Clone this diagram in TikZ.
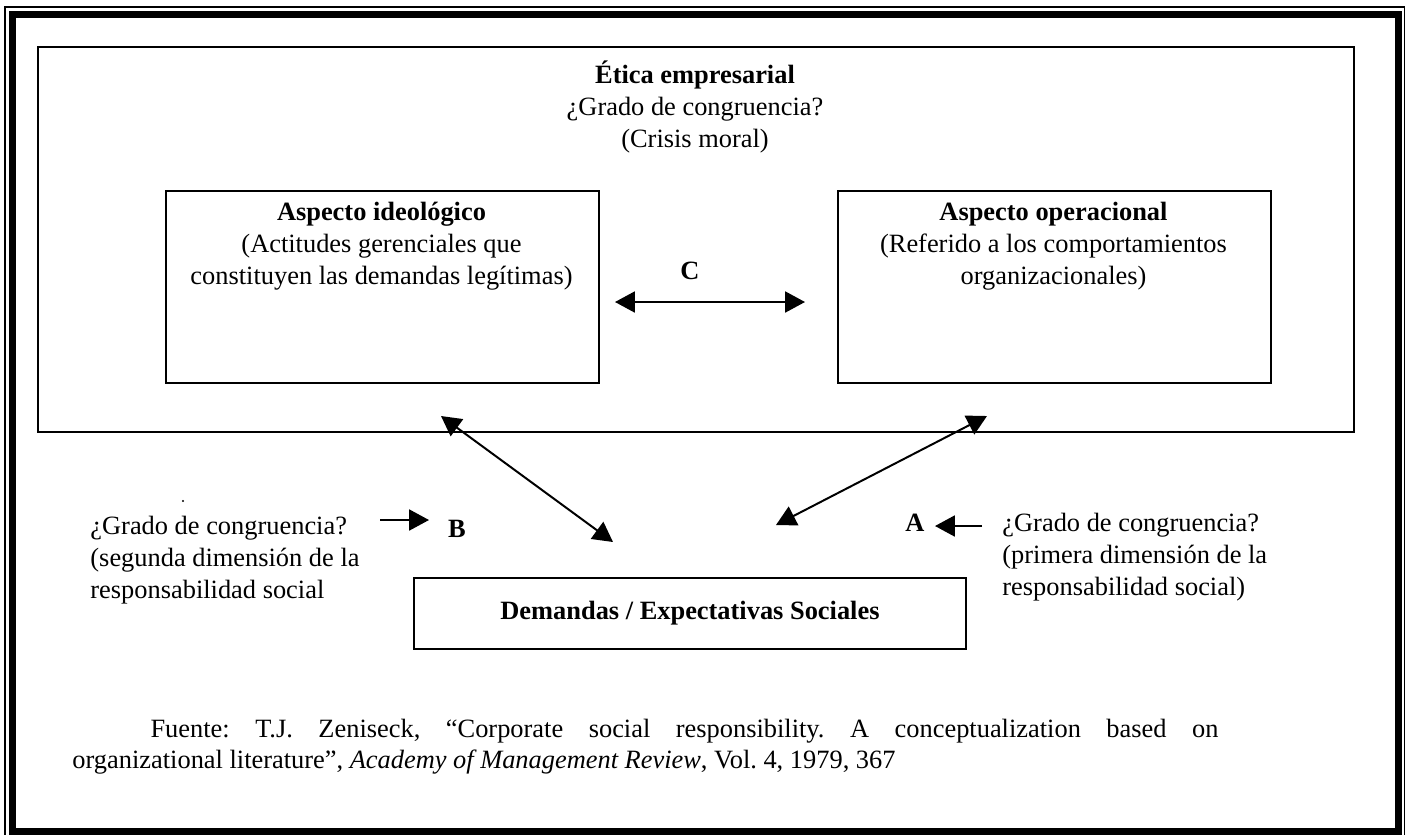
\documentclass[tikz,border=0pt]{standalone}
\usepackage{fontspec}
\setmainfont{Liberation Serif}
\usetikzlibrary{arrows.meta}
\frenchspacing

\begin{document}
\begin{tikzpicture}[x=0.4545pt, y=-0.4545pt,
  every node/.style={font=\fontsize{12}{14.5}\selectfont, inner sep=0pt},
  box/.style={draw, line width=0.9pt, inner sep=0pt, anchor=north west},
  onetip/.style={line width=0.9pt, -{Triangle[length=9pt, width=9.5pt]}},
  twotip/.style={line width=0.9pt, {Triangle[length=9pt, width=9.5pt]}-{Triangle[length=9pt, width=9.5pt]}}]

\useasboundingbox (0,0) rectangle (1410,834);

% page frame: thin outer rule and heavy inner rule
\draw[line width=0.7pt] (5,7) rectangle (1404.5,845);
\draw[line width=3.2pt] (12.5,14.5) rectangle (1398.7,832);

% boxes
\node[box, minimum width={1316*0.4545pt}, minimum height={385*0.4545pt}] (etica) at (37,46) {};
\node[box, minimum width={433*0.4545pt}, minimum height={192*0.4545pt}] (ideo) at (165,190) {};
\node[box, minimum width={433*0.4545pt}, minimum height={192*0.4545pt}] (oper) at (837,190) {};
\node[box, minimum width={552*0.4545pt}, minimum height={71*0.4545pt}] (dem) at (413,577) {};

% box texts (multi-line nodes are placed by the baseline of their last line)
\node[anchor=base, align=center] (eticaT) at (695,147)
  {\textbf{Ética empresarial}\\¿Grado de congruencia?\\(Crisis moral)};
\node[anchor=base, align=center] (ideoT) at (381.5,284)
  {\textbf{Aspecto ideológico}\\(Actitudes gerenciales que\\constituyen las demandas legítimas)};
\node[anchor=base, align=center] (operT) at (1053.5,284)
  {\textbf{Aspecto operacional}\\(Referido a los comportamientos\\organizacionales)};
\node (demT) at (dem.center) {\textbf{Demandas / Expectativas Sociales}};

% relation C between the two aspects
\node[anchor=base] (labC) at (690,279) {\textbf{C}};
\coordinate (cL) at (615,302);
\coordinate (cR) at (805,302);
\draw[twotip] (cL) -- (cR);

% links between the aspects and the social demands
\coordinate (ideoEnd) at (441,416);
\coordinate (demL) at (613,542);
\draw[twotip] (ideoEnd) -- (demL);
\coordinate (operEnd) at (987,416);
\coordinate (demR) at (776,525);
\draw[twotip] (operEnd) -- (demR);

% side notes
\node[anchor=base west, align=left] (noteB) at (90,598)
  {¿Grado de congruencia?\\(segunda dimensión de la\\responsabilidad social};
\node[anchor=base] (labB) at (457,537) {\textbf{B}};
\coordinate (bStart) at (380,520);
\coordinate (bEnd) at (429,520);
\draw[onetip] (bStart) -- (bEnd);

\node[anchor=base west, align=left] (noteA) at (1002,595)
  {¿Grado de congruencia?\\(primera dimensión de la\\responsabilidad social)};
\node[anchor=base] (labA) at (915,531) {\textbf{A}};
\coordinate (aStart) at (982,526);
\coordinate (aEnd) at (935,526);
\draw[onetip] (aStart) -- (aEnd);

% small stray mark
\fill (183,501) circle[radius=0.5pt];

% source line
\node[anchor=base west, text width={1146*0.4545pt}, align=justify] (src) at (72,737)
  {\hspace*{35.5pt}Fuente: T.J. Zeniseck, “Corporate social responsibility. A conceptualization based on\linebreak
   organizational literature”, \textit{Academy of Management Review}, Vol. 4, 1979, 367};

\end{tikzpicture}
\end{document}
